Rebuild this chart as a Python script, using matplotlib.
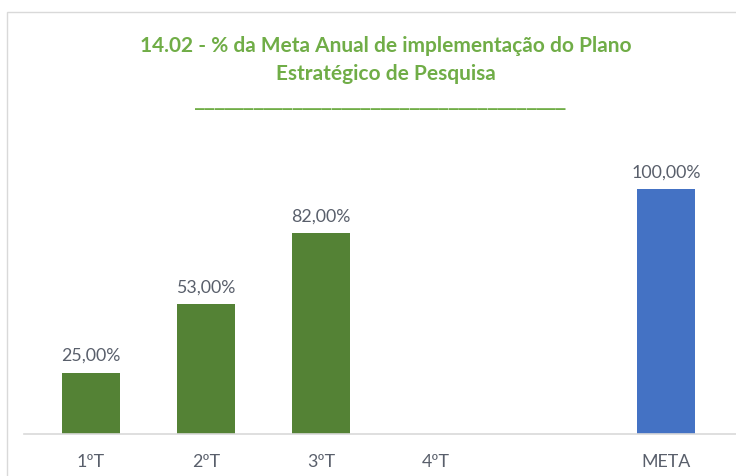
import matplotlib

matplotlib.use("Agg")
import matplotlib.pyplot as plt
from matplotlib.patches import Rectangle

plt.rcParams["font.family"] = ["Lato", "DejaVu Sans"]

categories = ["1ºT", "2ºT", "3ºT", "4ºT", "", "META"]
values = [25.0, 53.0, 82.0, None, None, 100.0]
colors = ["#548235", "#548235", "#548235", "#548235", "#548235", "#4472C4"]

title_green = "#70AD47"
label_gray = "#595F6B"

fig = plt.figure(figsize=(7.36, 4.77), dpi=100)

# chart frame (cropped on the right)
fig.add_artist(Rectangle((7 / 736, -0.01), 1.0, (477 - 13) / 477 + 0.01,
                         transform=fig.transFigure, fill=False,
                         edgecolor="#D9D9D9", lw=1))

ax = fig.add_axes([24 / 736, (477 - 435) / 477, 1 - 24 / 736, (435 - 130) / 477])

xs = [i for i, v in enumerate(values) if v is not None]
ys = [values[i] for i in xs]
ax.bar(xs, ys, width=0.5, color=[colors[i] for i in xs])

for x, y in zip(xs, ys):
    ax.annotate(f"{y:.2f}".replace(".", ",") + "%", (x, y), xytext=(0, 7),
                textcoords="offset points", ha="center", va="bottom",
                fontsize=12.8, color=label_gray)

ax.set_xlim(-0.583, 5.61)
ax.set_ylim(0, 124.5)
ax.set_xticks(range(len(categories)))
ax.set_xticklabels(categories, fontsize=12.8, color=label_gray)
ax.tick_params(axis="x", length=0, pad=14)
ax.set_yticks([])
for s in ["top", "right", "left"]:
    ax.spines[s].set_visible(False)
ax.spines["bottom"].set_color("#D9D9D9")
ax.spines["bottom"].set_linewidth(1.2)

fig.text(386 / 736, 1 - 52 / 477,
         "14.02 - % da Meta Anual de implementação do Plano",
         ha="center", va="baseline", fontsize=15, fontweight="bold",
         color=title_green)
fig.text(386 / 736, 1 - 80 / 477, "Estratégico de Pesquisa",
         ha="center", va="baseline", fontsize=15, fontweight="bold",
         color=title_green)
fig.text(380 / 736, 1 - 105 / 477, "_" * 38, ha="center", va="baseline",
         fontsize=14, fontweight="bold", color=title_green,
         family="DejaVu Sans")

fig.savefig("out.png", dpi=100)
